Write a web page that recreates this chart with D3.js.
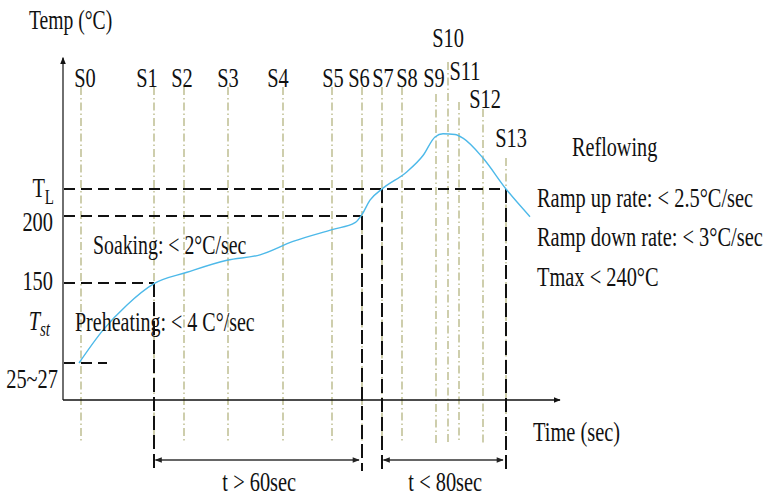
<!DOCTYPE html>
<html>
<head>
<meta charset="utf-8">
<script src="https://cdn.jsdelivr.net/npm/d3@7"></script>
<style>
  html, body { margin: 0; padding: 0; background: #fff; }
  svg { display: block; }
  text { font-family: "Liberation Serif", "Times New Roman", serif; fill: #111; }
</style>
</head>
<body>
<svg id="chart" width="764" height="499"></svg>
<script>
// Reflow soldering temperature profile (schematic)

// Stage markers along the time axis (sec, schematic)
const stageNames = ["S0","S1","S2","S3","S4","S5","S6","S7","S8","S9","S10","S11","S12","S13"];
const stageTimes = [9, 45.5, 60.5, 82.5, 110, 134.5, 149.5, 159.5, 169.5, 186.5, 192.5, 198, 210, 221.5];

// Temperature profile
const profileTime = [8, 20, 32, 45.5, 62, 82, 98.5, 115, 135, 146, 149.5, 153.5, 159.5, 172, 180, 186, 190, 196, 200, 210, 221.5, 233.5];
const profileTemp = [26, 77, 116, 149, 158, 167, 171, 181, 190, 195, 201, 210, 217, 224, 230.5, 238, 239.3, 239, 237.5, 229.5, 217, 199.5];

// Temperature axis levels and their labels
const levelValues = [217, 200, 150, 26];
const levelLabels = ["T_L", "200", "150", "25~27"];
const startTempValue = 77;   // where the T_st label sits

// Reference levels: stage index where each dashed level line ends
const levelStage = [13, 6, 1, null];

// Time windows below the axis
const windowFrom = [1, 7];
const windowTo = [6, 13];
const windowLabels = ["t > 60sec", "t < 80sec"];

// Process notes
const soakNote = "Soaking: < 2°C/sec";
const preheatNote = "Preheating: < 4 C°/sec";
const reflowTitle = "Reflowing";
const reflowNotes = ["Ramp up rate: < 2.5°C/sec", "Ramp down rate: < 3°C/sec", "Tmax < 240°C"];

// ---------- layout ----------
const SY = 1.35;          // vertical stretch of lettering
const FS = 20.4;
const svg = d3.select("#chart");

const x = d3.scaleLinear().domain([0, 250]).range([63, 563]);
const y = d3.scaleLinear()
  .domain([0, 26, 150, 200, 217, 240])
  .range([400, 363, 283, 216, 189, 132]);

const stageLabelBase = [87,87,87,87,87,87,87,87,87,87,47,80,108,147];
const stageLineTop   = [87,87,87,87,87,87,87,87,87,94,62,102,109,158];
const stageLabelNudge = [4,-7,-2,0,-5,1,-3,1,5,-2,0,6,2,5];
const stageLineBottom = 443;
const dropBottom = 471;
const windowY = 460;

function txt(g, px, py, s, anchor = "start", size = FS, italic = false) {
  const t = g.append("text")
    .attr("transform", `translate(${px},${py}) scale(1,${SY})`)
    .attr("text-anchor", anchor)
    .attr("font-size", size);
  if (italic) t.attr("font-style", "italic");
  t.text(s);
  return t;
}

// arrow markers
const defs = svg.append("defs");
defs.append("marker").attr("id", "axisHead")
  .attr("viewBox", "0 0 10 10").attr("refX", 9).attr("refY", 5)
  .attr("markerWidth", 7).attr("markerHeight", 7).attr("markerUnits", "userSpaceOnUse")
  .attr("orient", "auto")
  .append("path").attr("d", "M0,1 L10,5 L0,9 Z").attr("fill", "#111");
defs.append("marker").attr("id", "spanHead")
  .attr("viewBox", "0 0 10 10").attr("refX", 9).attr("refY", 5)
  .attr("markerWidth", 9).attr("markerHeight", 7).attr("markerUnits", "userSpaceOnUse")
  .attr("orient", "auto-start-reverse")
  .append("path").attr("d", "M0,1 L10,5 L0,9 Z").attr("fill", "#222");

// stage guide lines (dash-dot)
const stages = svg.append("g");
stageNames.forEach((n, i) => {
  stages.append("line")
    .attr("x1", x(stageTimes[i])).attr("x2", x(stageTimes[i]))
    .attr("y1", stageLineTop[i]).attr("y2", stageLineBottom)
    .attr("stroke", "#a6a66a").attr("stroke-width", 1.1)
    .attr("stroke-dasharray", "8,3,1.5,3");
  txt(stages, x(stageTimes[i]) + stageLabelNudge[i], stageLabelBase[i], n, "middle");
});

// axes
const axes = svg.append("g");
axes.append("line")
  .attr("x1", x(0)).attr("x2", x(0))
  .attr("y1", y(0)).attr("y2", y(270))
  .attr("stroke", "#333").attr("stroke-width", 1.4)
  .attr("marker-end", "url(#axisHead)");
axes.append("line")
  .attr("x1", x(0)).attr("x2", x(248.5))
  .attr("y1", y(0)).attr("y2", y(0))
  .attr("stroke", "#111").attr("stroke-width", 1.4)
  .attr("marker-end", "url(#axisHead)");
txt(axes, 29, 29, "Temp (°C)", "start", 19.6);
txt(axes, 533, 441, "Time (sec)", "start", 20.4);

// level lines and vertical drops
const guides = svg.append("g")
  .attr("stroke", "#111").attr("stroke-width", 2).attr("fill", "none");
levelValues.forEach((v, i) => {
  const endX = levelStage[i] === null ? 107 : x(stageTimes[levelStage[i]]);
  guides.append("line")
    .attr("x1", x(0) + 1).attr("x2", endX)
    .attr("y1", y(v)).attr("y2", y(v))
    .attr("stroke-dasharray", "11,6");
  if (levelStage[i] !== null) {
    guides.append("line")
      .attr("x1", endX).attr("x2", endX)
      .attr("y1", y(v)).attr("y2", dropBottom)
      .attr("stroke-dasharray", "14,5");
  }
});
// S7 drop from the liquidus level
guides.append("line")
  .attr("x1", x(stageTimes[7])).attr("x2", x(stageTimes[7]))
  .attr("y1", y(217)).attr("y2", dropBottom)
  .attr("stroke-dasharray", "14,5");

// level labels
const lv = svg.append("g");
const tl = txt(lv, 54, 197, "", "end");
tl.append("tspan").text("T");
tl.append("tspan").attr("font-size", 15).attr("dy", 5).text("L");
txt(lv, 53, 231, levelLabels[1], "end");
txt(lv, 53, 290, levelLabels[2], "end");
txt(lv, 58, 388, levelLabels[3], "end");
const ts = txt(lv, 50, y(startTempValue) + 0, "", "end", FS, true);
ts.append("tspan").text("T");
ts.append("tspan").attr("font-size", 15).attr("dy", 4).text("st");

// temperature profile
const line = d3.line()
  .x((d, i) => x(profileTime[i]))
  .y((d, i) => y(profileTemp[i]))
  .curve(d3.curveMonotoneX);
svg.append("path")
  .datum(profileTime)
  .attr("d", line)
  .attr("fill", "none")
  .attr("stroke", "#4db9e9")
  .attr("stroke-width", 1.4);

// time windows
const win = svg.append("g");
windowFrom.forEach((s, i) => {
  const a = x(stageTimes[s]) + 1.5, b = x(stageTimes[windowTo[i]]) - 3;
  win.append("line")
    .attr("x1", a).attr("x2", b)
    .attr("y1", windowY).attr("y2", windowY)
    .attr("stroke", "#333").attr("stroke-width", 1.3)
    .attr("marker-start", "url(#spanHead)")
    .attr("marker-end", "url(#spanHead)");
  txt(win, (a + b) / 2 + 2, 491, windowLabels[i], "middle");
});

// notes
const notes = svg.append("g");
txt(notes, 93, 254, soakNote, "start", 19.8);
txt(notes, 75, 331, preheatNote, "start", 20);
txt(notes, 572, 156, reflowTitle, "start", 20.2);
[207, 246, 286].forEach((by, i) => txt(notes, 537, by, reflowNotes[i], "start", 20.4));
</script>
</body>
</html>
